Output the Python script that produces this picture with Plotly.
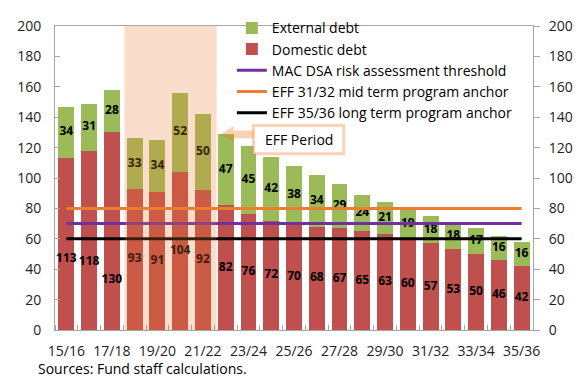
import plotly.graph_objects as go

# Fiscal years and public debt components (% of GDP)
years = ["15/16", "16/17", "17/18", "18/19", "19/20", "20/21", "21/22",
         "22/23", "23/24", "24/25", "25/26", "26/27", "27/28", "28/29",
         "29/30", "30/31", "31/32", "32/33", "33/34", "34/35", "35/36"]
domestic = [113, 118, 130, 93, 91, 104, 92, 82, 76, 72, 70, 68, 67, 65,
            63, 60, 57, 53, 50, 46, 42]
external = [34, 31, 28, 33, 34, 52, 50, 47, 45, 42, 38, 34, 29, 24,
            21, 19, 18, 18, 17, 16, 16]

# Reference thresholds
mac_threshold = 70
mid_term_anchor = 80
long_term_anchor = 60

# Programme window
eff_start, eff_end = "18/19", "21/22"

GREEN = "#9BBB59"
RED = "#C0504D"
PURPLE = "#7030A0"
ORANGE = "#ED7D31"
AXIS = "#A6A6A6"
FONT = "Open Sans"
SHADE = "rgba(237,125,49,0.25)"
CALLOUT = "rgba(237,125,49,0.35)"

x = list(range(len(years)))

# label heights: centred in each segment, a few domestic labels nudged down
domestic_label_override = {0: 47, 1: 44.5, 2: 33}
dom_label_y = [domestic_label_override.get(i, v / 2) for i, v in enumerate(domestic)]
ext_label_y = [d + e / 2 for d, e in zip(domestic, external)]

fig = go.Figure()
fig.add_trace(go.Bar(x=x, y=domestic, name="Domestic debt", marker_color=RED,
                     marker_line_width=0, legendrank=2, hoverinfo="skip"))
fig.add_trace(go.Bar(x=x, y=external, name="External debt", marker_color=GREEN,
                     marker_line_width=0, legendrank=1, hoverinfo="skip"))

label_font = dict(family=FONT, size=12, color="black", weight="bold")
fig.add_trace(go.Scatter(x=x, y=dom_label_y, text=[str(v) for v in domestic],
                         mode="text", textfont=label_font, showlegend=False,
                         hoverinfo="skip", cliponaxis=False))
fig.add_trace(go.Scatter(x=x, y=ext_label_y, text=[str(v) for v in external],
                         mode="text", textfont=label_font, showlegend=False,
                         hoverinfo="skip", cliponaxis=False))

for name, level, color, rank in [
        ("MAC DSA risk assessment threshold", mac_threshold, PURPLE, 3),
        ("EFF 31/32 mid term program anchor", mid_term_anchor, ORANGE, 4),
        ("EFF 35/36 long term program anchor", long_term_anchor, "black", 5)]:
    fig.add_trace(go.Scatter(x=[x[0], x[-1]], y=[level, level], mode="lines",
                             line=dict(color=color, width=3), name=name,
                             legendrank=rank, yaxis="y2", hoverinfo="skip"))

# shaded programme period
i0, i1 = years.index(eff_start), years.index(eff_end)
fig.add_shape(type="rect", xref="x", yref="paper", x0=i0 - 0.45, x1=i1 + 0.6,
              y0=0, y1=1, fillcolor=SHADE, line_width=0, layer="above")

# callout arrow pointing at the programme period
tip, head_base, tail = i1 + 0.77, i1 + 1.34, i1 + 2.3
yc, hh, sh = 128.7, 5.5, 2.6
arrow = (f"M {tip},{yc} L {head_base},{yc + hh} L {head_base},{yc + sh} "
         f"L {tail},{yc + sh} L {tail},{yc - sh} L {head_base},{yc - sh} "
         f"L {head_base},{yc - hh} Z")
fig.add_shape(type="path", xref="x", yref="y", path=arrow,
              fillcolor=CALLOUT, line_width=0, layer="above")
fig.add_shape(type="rect", xref="x", yref="y", x0=i1 + 2.22, x1=i1 + 6.18,
              y0=116, y1=134.5, fillcolor="white",
              line=dict(color=CALLOUT, width=3), layer="above")
fig.add_annotation(x=i1 + 4.2, y=125.3, xref="x", yref="y", text="EFF Period",
                   showarrow=False, font=dict(family=FONT, size=14, color="black"))

fig.add_annotation(x=-0.04, y=-0.125, xref="paper", yref="paper",
                   text="Sources: Fund staff calculations.", showarrow=False,
                   xanchor="left", yanchor="middle",
                   font=dict(family=FONT, size=14, color="black"))

tickfont = dict(family=FONT, size=14, color="#222222")
fig.update_layout(
    width=585, height=377,
    margin=dict(l=55, r=44, t=16, b=47),
    paper_bgcolor="white", plot_bgcolor="white",
    barmode="stack", bargap=0.3,
    font=dict(family=FONT, size=14, color="black"),
    showlegend=True,
    legend=dict(x=0.37, y=1.045, xanchor="left", yanchor="top",
                traceorder="normal",
                bgcolor="rgba(0,0,0,0)", font=dict(family=FONT, size=14),
                itemwidth=30, tracegroupgap=0),
    xaxis=dict(range=[-0.5, len(years) - 0.5], tickmode="array",
               tickvals=x[::2], ticktext=years[::2], ticks="",
               showline=True, linecolor=AXIS, linewidth=1, mirror=True,
               showgrid=False, zeroline=False, tickfont=tickfont,
               ticklabelstandoff=8,
               minor=dict(tickmode="array",
                          tickvals=[i - 0.5 for i in range(len(years) + 1)],
                          ticks="inside", ticklen=5, tickcolor=AXIS,
                          showgrid=False)),
    yaxis=dict(range=[0, 200], dtick=20, ticks="inside", ticklen=5,
               tickcolor=AXIS, showline=True, linecolor=AXIS, showgrid=False,
               zeroline=False, tickfont=tickfont, ticklabelstandoff=10),
    yaxis2=dict(range=[0, 200], dtick=20, overlaying="y", side="right",
                ticks="outside", ticklen=6, tickcolor=AXIS, showline=True,
                linecolor=AXIS, showgrid=False, zeroline=False,
                tickfont=tickfont, ticklabelstandoff=6),
)

fig.write_html("out.html")
